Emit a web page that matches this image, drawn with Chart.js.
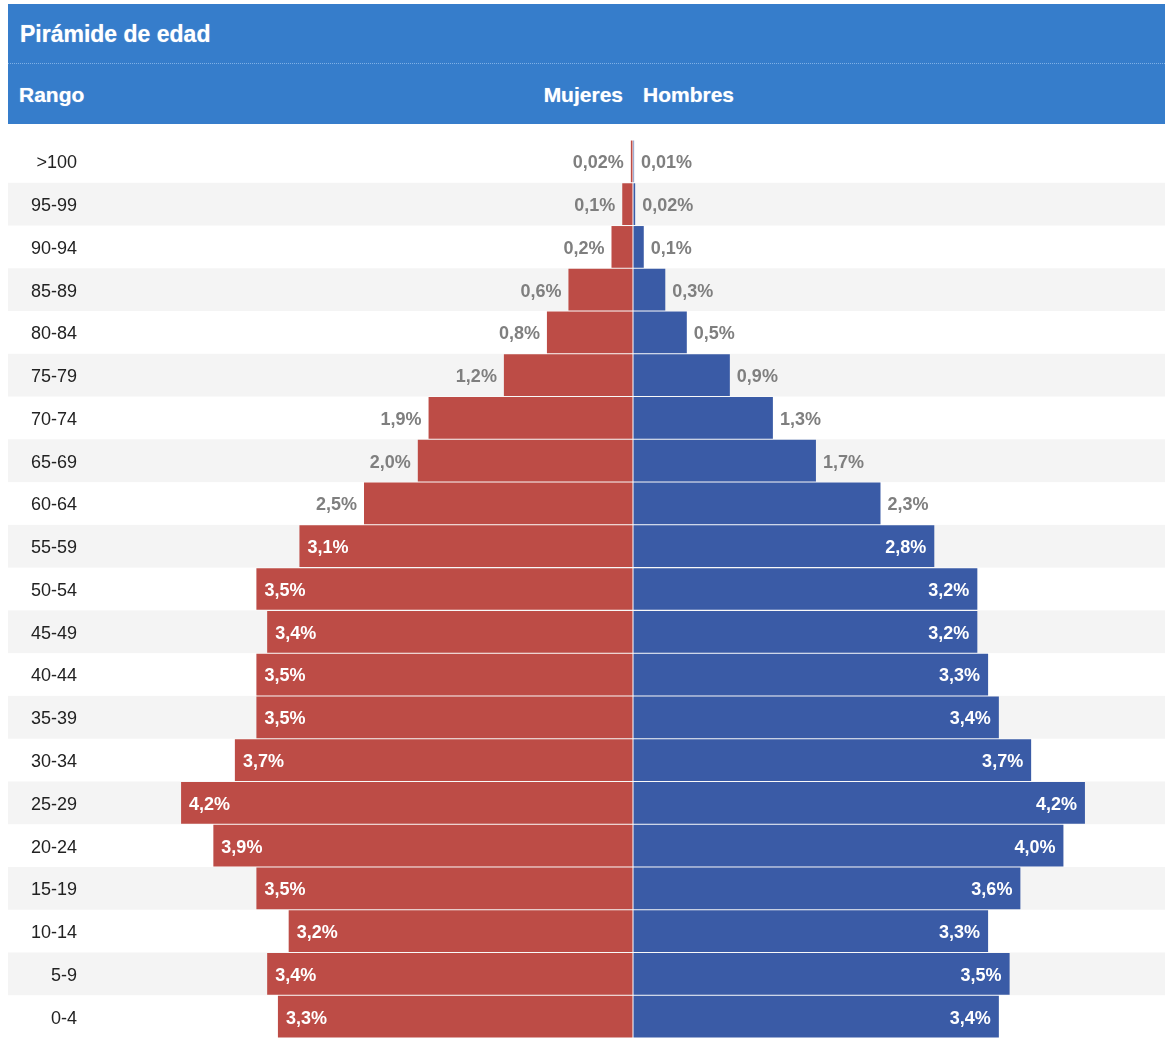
<!DOCTYPE html>
<html>
<head>
<meta charset="utf-8">
<script src="https://cdn.jsdelivr.net/npm/chart.js@4.4.1/dist/chart.umd.min.js"></script>
<style>
    body { margin: 0; background: #fff; font-family: "Liberation Sans", Arial, sans-serif; overflow: hidden; }
    #header { position: absolute; left: 8px; top: 4px; width: 1157px; height: 120px; background: #367dcb; color: #fff; font-weight: bold; }
    #header span { position: absolute; line-height: 1; text-shadow: 0 0 1px rgba(255,255,255,0.6); }
    #title { left: 12px; top: 19px; font-size: 23px; }
    #dots { position: absolute; left: 0; right: 0; top: 59px; border-top: 1px dotted #7fb0e6; }
    #rango { left: 11px; top: 80px; font-size: 21px; }
    #mujeres { right: 542px; top: 80px; font-size: 21px; }
    #hombres { left: 635px; top: 80px; font-size: 21px; }
    #wrap { position: absolute; left: 8px; top: 124px; width: 1157px; height: 914px; }
</style>
</head>
<body>
<div id="header">
    <span id="title">Pirámide de edad</span>
    <div id="dots"></div>
    <span id="rango">Rango</span>
    <span id="mujeres">Mujeres</span>
    <span id="hombres">Hombres</span>
</div>
<div id="wrap"><canvas id="chart"></canvas></div>
<script>
const rangos = ['>100', '95-99', '90-94', '85-89', '80-84', '75-79', '70-74', '65-69', '60-64', '55-59',
    '50-54', '45-49', '40-44', '35-39', '30-34', '25-29', '20-24', '15-19', '10-14', '5-9', '0-4'];
const mujeres = [0.02, 0.1, 0.2, 0.6, 0.8, 1.2, 1.9, 2.0, 2.5, 3.1, 3.5, 3.4, 3.5, 3.5, 3.7, 4.2, 3.9, 3.5, 3.2, 3.4, 3.3];
const hombres = [0.01, 0.02, 0.1, 0.3, 0.5, 0.9, 1.3, 1.7, 2.3, 2.8, 3.2, 3.2, 3.3, 3.4, 3.7, 4.2, 4.0, 3.6, 3.3, 3.5, 3.4];

const fmt = (v) => (v < 0.05 ? v.toFixed(2) : v.toFixed(1)).replace('.', ',') + '%';

// alternating grey rows + the age range names
const rowsBg = {
    id: 'rowsBg',
    beforeDatasetsDraw(chart) {
        const ctx = chart.ctx;
        const y = chart.scales.y;
        const h = (y.bottom - y.top) / rangos.length;
        ctx.save();
        rangos.forEach((r, i) => {
            const cy = y.getPixelForValue(i);
            if (i % 2 === 1) {
                ctx.fillStyle = '#f4f4f4';
                ctx.fillRect(0, cy - h / 2, chart.width, h);
            }
            ctx.fillStyle = '#222';
            ctx.font = '18px "Liberation Sans", Arial, sans-serif';
            ctx.textAlign = 'right';
            ctx.textBaseline = 'middle';
            ctx.fillText(r, chart.chartArea.left - 11, cy + 2);
        });
        ctx.restore();
    }
};

// value labels, inside the bar when it is long enough
const barLabels = {
    id: 'barLabels',
    afterDatasetsDraw(chart) {
        const ctx = chart.ctx;
        const x0 = chart.scales.x.getPixelForValue(0);
        ctx.save();
        ctx.fillStyle = '#fff';
        ctx.fillRect(Math.round(x0) - 0.5, chart.chartArea.top, 1, chart.chartArea.bottom - chart.chartArea.top);
        ctx.font = 'bold 18px "Liberation Sans", Arial, sans-serif';
        ctx.textBaseline = 'middle';
        chart.data.datasets.forEach((ds, di) => {
            const meta = chart.getDatasetMeta(di);
            const raw = di === 0 ? mujeres : hombres;
            meta.data.forEach((bar, i) => {
                const v = raw[i];
                const inside = v >= 2.7;
                const end = bar.x;
                let x, align;
                if (di === 0) {
                    x = inside ? end + 8 : end - 7;
                    align = inside ? 'left' : 'right';
                } else {
                    x = inside ? end - 8 : end + 7;
                    align = inside ? 'right' : 'left';
                }
                ctx.textAlign = align;
                ctx.fillStyle = inside ? '#ffffff' : '#7f7f7f';
                ctx.fillText(fmt(v), x, bar.y + 2);
            });
        });
        ctx.restore();
    }
};

new Chart(document.getElementById('chart'), {
    type: 'bar',
    data: {
        labels: rangos,
        datasets: [
            { label: 'Mujeres', data: mujeres.map(v => -v), backgroundColor: '#bd4c46' },
            { label: 'Hombres', data: hombres, backgroundColor: '#3a5ba6' }
        ]
    },
    options: {
        indexAxis: 'y',
        responsive: true,
        maintainAspectRatio: false,
        animation: false,
        barPercentage: 0.976,
        categoryPercentage: 1,
        layout: { padding: { top: 16, right: 0, bottom: 0, left: 0 } },
        plugins: {
            legend: { display: false },
            tooltip: { enabled: false }
        },
        scales: {
            x: {
                stacked: true,
                min: -5.065,
                max: 4.944,
                display: false
            },
            y: {
                stacked: true,
                afterFit(scale) { scale.width = 80; },
                grid: { display: false, drawTicks: false },
                border: { display: false },
                ticks: { display: false }
            }
        }
    },
    plugins: [rowsBg, barLabels]
});
</script>
</body>
</html>
